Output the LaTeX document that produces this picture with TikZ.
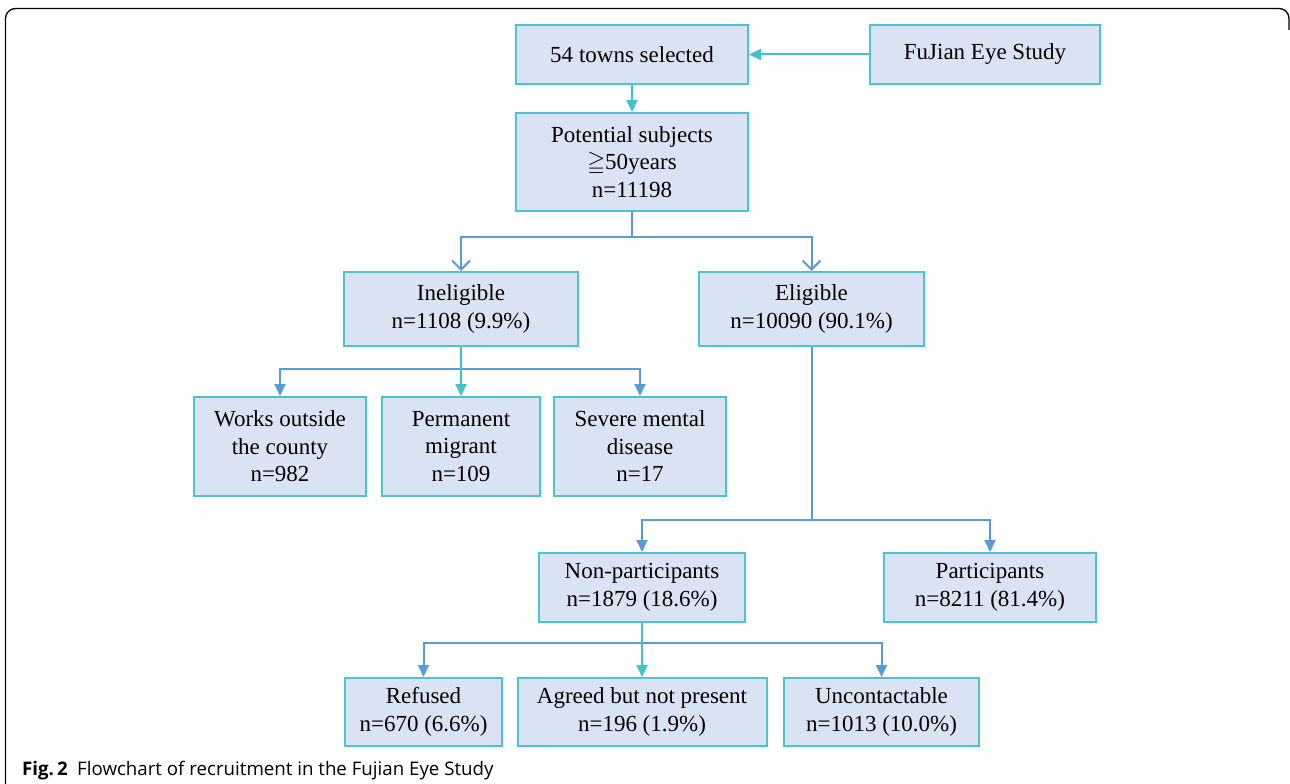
\documentclass[tikz,border=0pt]{standalone}
\usepackage{amssymb}
\usepackage{fontspec}
\setmainfont{Liberation Serif}
\newfontfamily\capfont{Open Sans}
\usetikzlibrary{arrows.meta}
\definecolor{boxfill}{HTML}{DAE3F3}
\definecolor{boxline}{HTML}{4CC4CC}
\definecolor{lnblue}{HTML}{5B9BD5}
\definecolor{lnteal}{HTML}{3EC3C9}
\begin{document}
\begin{tikzpicture}[x=1pt,y=-1pt,
  box/.style={draw=boxline, fill=boxfill, line width=2pt, align=center,
    font=\fontsize{23}{27.5}\selectfont, inner sep=0pt},
  tealarrow/.style={draw=lnteal, line width=2pt, -{Triangle[length=12pt,width=11pt]}},
  bluearrow/.style={draw=lnblue, line width=2pt, -{Triangle[length=12pt,width=11pt]}},
  blueopen/.style={draw=lnblue, line width=2pt, -{Straight Barb[length=9pt,width=18pt,line width=2pt]}},
  blueline/.style={draw=lnblue, line width=2pt},
  frame/.style={draw=black, line width=1.3pt, rounded corners=10pt}
]
\useasboundingbox (0,0) rectangle (1290,784);
\draw[frame] (5.5,784) -- (5.5,8.5) -- (1289,8.5) -- (1289,30);

\node[box, minimum width=232pt, minimum height=59pt] (towns) at (632,54.5) {54 towns selected};
\node[box, minimum width=230pt, minimum height=59pt] (fujian) at (985,54.5) {FuJian Eye Study};
\node[box, minimum width=232pt, minimum height=98pt] (potential) at (632,162) {Potential subjects\\$\geqq$50years\\n=11198};
\node[box, minimum width=234pt, minimum height=74pt] (inelig) at (461,309) {Ineligible\\n=1108 (9.9\%)};
\node[box, minimum width=225pt, minimum height=74pt] (elig) at (811.5,309) {Eligible\\n=10090 (90.1\%)};
\node[box, minimum width=172pt, minimum height=99pt] (works) at (280,446.5) {Works outside\\the county\\n=982};
\node[box, minimum width=158pt, minimum height=99pt] (perm) at (461,446.5) {Permanent\\migrant\\n=109};
\node[box, minimum width=172pt, minimum height=99pt] (severe) at (640,446.5) {Severe mental\\disease\\n=17};
\node[box, minimum width=206pt, minimum height=69pt] (nonp) at (642,587.5) {Non-participants\\n=1879 (18.6\%)};
\node[box, minimum width=212pt, minimum height=69pt] (part) at (990,587.5) {Participants\\n=8211 (81.4\%)};
\node[box, minimum width=157pt, minimum height=68pt] (refused) at (423.5,712) {Refused\\n=670 (6.6\%)};
\node[box, minimum width=249pt, minimum height=68pt] (agreed) at (642,712) {Agreed but not present\\n=196 (1.9\%)};
\node[box, minimum width=195pt, minimum height=68pt] (uncont) at (881.5,712) {Uncontactable\\n=1013 (10.0\%)};

\node[anchor=base west, inner sep=0pt, font=\capfont\fontsize{18.7}{20}\selectfont] (caption) at (22,775.5)
  {\textbf{Fig.\,2}\enspace Flowchart of recruitment in the Fujian Eye Study};

% top
\draw[tealarrow] (fujian.west) -- (towns.east);
\draw[tealarrow] (towns.south) -- (potential.north);
\coordinate (b1) at (632,237);
\draw[blueline] (potential.south) -- (b1);
\draw[blueopen] (b1) -| (inelig.north);
\draw[blueopen] (b1) -| (elig.north);
% ineligible
\coordinate (b2) at (461,369);
\draw[bluearrow] (b2) -| (works.north);
\draw[bluearrow] (b2) -| (severe.north);
\draw[tealarrow] (inelig.south) -- (perm.north);
% eligible
\coordinate (b3) at (811.5,520);
\draw[blueline] (elig.south) -- (b3);
\draw[bluearrow] (b3) -| (nonp.north);
\draw[bluearrow] (b3) -| (part.north);
% non-participants
\coordinate (b4) at (642,643);
\draw[bluearrow] (b4) -| (refused.north);
\draw[bluearrow] (b4) -| (uncont.north);
\draw[tealarrow] (nonp.south) -- (agreed.north);
\end{tikzpicture}
\end{document}
